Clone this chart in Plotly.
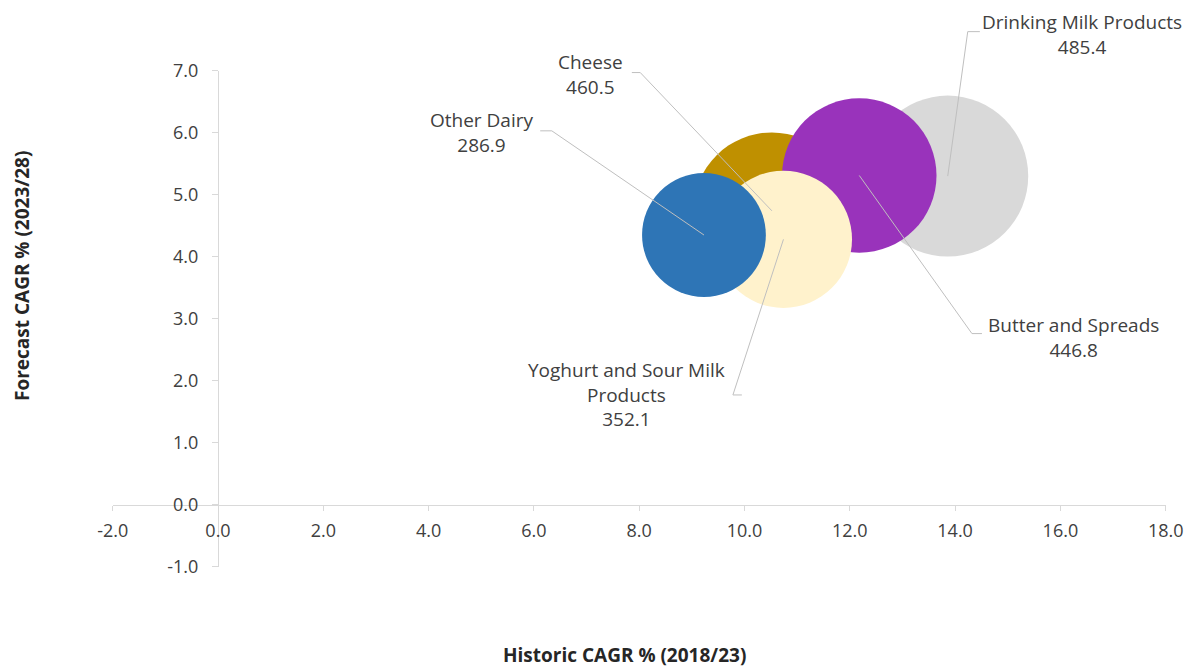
import plotly.graph_objects as go

# Dairy categories: historic vs forecast growth, bubble = market size
categories = ["Drinking Milk Products", "Cheese", "Butter and Spreads",
              "Yoghurt and Sour Milk Products", "Other Dairy"]
historic_cagr = [13.86, 10.52, 12.18, 10.74, 9.23]
forecast_cagr = [5.30, 4.74, 5.31, 4.28, 4.35]
market_size = [485.4, 460.5, 446.8, 352.1, 286.9]
bubble_colors = ["#D9D9D9", "#BF9000", "#9933BB", "#FFF2CC", "#2E75B6"]

x_tick_values = [-2.0, 0.0, 2.0, 4.0, 6.0, 8.0, 10.0, 12.0, 14.0, 16.0, 18.0]
y_tick_values = [-1.0, 0.0, 1.0, 2.0, 3.0, 4.0, 5.0, 6.0, 7.0]

# Data-label placement (text centre) and leader-line elbow, in axis units
label_lines = ["Drinking Milk Products", "Cheese", "Butter and Spreads",
               "Yoghurt and Sour Milk<br>Products", "Other Dairy"]
label_x = [16.41, 7.08, 16.24, 7.75, 5.00]
label_y = [7.59, 6.94, 2.69, 1.77, 6.00]
elbow_start_x = [14.47, 7.86, 14.51, 9.95, 6.12]
elbow_end_x = [14.24, 8.02, 14.32, 9.78, 6.34]
elbow_y = [7.63, 6.97, 2.76, 1.77, 6.03]

W, H = 1194, 671
X_RANGE = [-2, 18]
Y_RANGE = [-1, 7]
X_DOMAIN = [112.7 / W, 1165.7 / W]
Y_DOMAIN = [1 - 566.7 / H, 1 - 70.7 / H]
MAX_DIAMETER = 161
AXIS_GREY = "#D9D9D9"
LEADER_GREY = "#BFBFBF"
TEXT_GREY = "#404040"
FONT = "Open Sans"


def px(v):
    return X_DOMAIN[0] + (v - X_RANGE[0]) / (X_RANGE[1] - X_RANGE[0]) * (X_DOMAIN[1] - X_DOMAIN[0])


def py(v):
    return Y_DOMAIN[0] + (v - Y_RANGE[0]) / (Y_RANGE[1] - Y_RANGE[0]) * (Y_DOMAIN[1] - Y_DOMAIN[0])


fig = go.Figure()
fig.add_trace(go.Scatter(
    x=historic_cagr, y=forecast_cagr, mode="markers",
    text=categories,
    customdata=market_size,
    hovertemplate="%{text}<br>%{x:.1f}, %{y:.1f}<br>%{customdata}<extra></extra>",
    marker=dict(
        size=market_size, sizemode="area",
        sizeref=2 * max(market_size) / MAX_DIAMETER ** 2,
        color=bubble_colors, opacity=1, line=dict(width=0),
    ),
    showlegend=False,
))

shapes = []
annotations = []
for i, name in enumerate(categories):
    value = market_size[i]
    # leader line: bubble centre -> elbow -> label side
    shapes.append(dict(type="line", xref="paper", yref="paper",
                       x0=px(historic_cagr[i]), y0=py(forecast_cagr[i]),
                       x1=px(elbow_end_x[i]), y1=py(elbow_y[i]),
                       line=dict(color=LEADER_GREY, width=1)))
    shapes.append(dict(type="line", xref="paper", yref="paper",
                       x0=px(elbow_end_x[i]), y0=py(elbow_y[i]),
                       x1=px(elbow_start_x[i]), y1=py(elbow_y[i]),
                       line=dict(color=LEADER_GREY, width=1)))
    annotations.append(dict(
        x=px(label_x[i]), y=py(label_y[i]), xref="paper", yref="paper",
        text=f"{label_lines[i]}<br>{value:.1f}", showarrow=False,
        align="center", xanchor="center", yanchor="middle",
        font=dict(family=FONT, size=19, color=TEXT_GREY),
    ))

annotations.append(dict(
    x=624 / W, y=1 - 655 / H, xref="paper", yref="paper",
    text="<b>Historic CAGR % (2018/23)</b>", showarrow=False,
    xanchor="center", yanchor="middle",
    font=dict(family=FONT, size=19, color="#262626"),
))
annotations.append(dict(
    x=22 / W, y=1 - 276 / H, xref="paper", yref="paper",
    text="<b>Forecast CAGR % (2023/28)</b>", showarrow=False, textangle=-90,
    xanchor="center", yanchor="middle",
    font=dict(family=FONT, size=19, color="#262626"),
))

fig.update_layout(
    width=W, height=H, autosize=False,
    margin=dict(l=0, r=0, t=0, b=0),
    paper_bgcolor="white", plot_bgcolor="white",
    shapes=shapes, annotations=annotations,
    font=dict(family=FONT, color=TEXT_GREY),
    xaxis=dict(
        range=X_RANGE, domain=X_DOMAIN, anchor="free", position=py(0),
        tickvals=x_tick_values, ticktext=[f"{v:.1f}" for v in x_tick_values],
        showline=True, linecolor=AXIS_GREY, linewidth=1,
        ticks="outside", ticklen=5, tickcolor=AXIS_GREY, tickwidth=1,
        showgrid=False, zeroline=False, automargin=False,
        tickfont=dict(family=FONT, size=18, color=TEXT_GREY),
        ticklabelstandoff=5,
    ),
    yaxis=dict(
        range=Y_RANGE, domain=Y_DOMAIN, anchor="free", position=px(0),
        tickvals=y_tick_values, ticktext=[f"{v:.1f}" for v in y_tick_values],
        showline=True, linecolor=AXIS_GREY, linewidth=1,
        ticks="outside", ticklen=6, tickcolor=AXIS_GREY, tickwidth=1,
        showgrid=False, zeroline=False, automargin=False,
        tickfont=dict(family=FONT, size=18, color=TEXT_GREY),
        ticklabelstandoff=10,
    ),
)

fig.write_html("out.html")
